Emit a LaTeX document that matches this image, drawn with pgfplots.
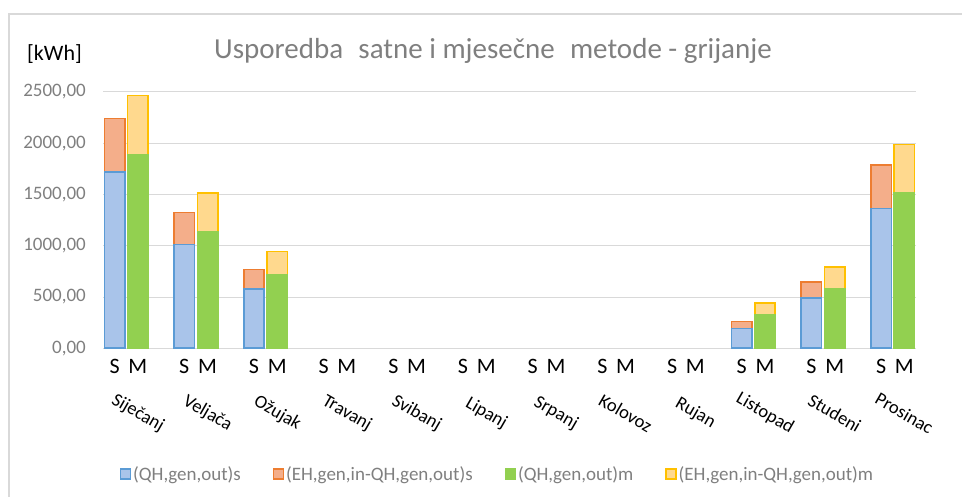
\documentclass[border=0pt]{standalone}
\usepackage{fontspec}
\setmainfont{Carlito}
\usepackage{pgfplots}
\usepackage{pgfplotstable}
\pgfplotsset{compat=1.18}
\definecolor{bfill}{HTML}{A9C4EA}
\definecolor{bdraw}{HTML}{5B9BD5}
\definecolor{ofill}{HTML}{F4AE8A}
\definecolor{odraw}{HTML}{ED7D31}
\definecolor{gfill}{HTML}{92D050}
\definecolor{yfill}{HTML}{FFD98E}
\definecolor{ydraw}{HTML}{FFC000}
\definecolor{gridc}{HTML}{D9D9D9}
\definecolor{txtg}{HTML}{7F7F7F}
\definecolor{frame}{HTML}{D9D9D9}

% x = slot of S bar; M bar is x+1
\pgfplotstableread{
x  qs    es   qm    em
0  1719  524  1888  576
3  1014  312  1137  375
6  578   192  715   231
27 195   68   322   117
30 488   156  585   208
33 1365  423  1512  474
}\data

\begin{document}
\begin{tikzpicture}
\useasboundingbox (0pt,0pt) rectangle (963pt,497pt);
\draw[color=frame, line width=1.2pt] (9pt,0pt) -- (9pt,483pt) -- (962pt,483pt);
\node[anchor=base, text=txtg, font=\fontsize{29}{32}\selectfont] at (493pt,438pt)
  {Usporedba\hspace{0.3em} satne i mjesečne\hspace{0.3em} metode - grijanje};
\node[anchor=base west, text=black, font=\fontsize{22}{24}\selectfont, inner sep=0pt] at (27pt,436pt) {[kWh]};
\begin{axis}[
  at={(103pt,148.7pt)}, anchor=south west,
  scale only axis, width=813pt, height=256.3pt,
  xmin=-0.5, xmax=34.5, ymin=0, ymax=2500,
  clip=false,
  axis line style={draw=none},
  major tick length=0pt,
  ymajorgrids, grid style={color=gridc, line width=1pt},
  ytick={0,500,1000,1500,2000,2500},
  yticklabel style={font=\fontsize{19}{21}\selectfont, text=txtg, anchor=east, inner sep=0pt, xshift=-17pt,
    /pgf/number format/fixed, /pgf/number format/fixed zerofill, /pgf/number format/precision=2,
    /pgf/number format/use comma, /pgf/number format/1000 sep={}, /pgf/number format/assume math mode=true},
  xtick={0,1,3,4,6,7,9,10,12,13,15,16,18,19,21,22,24,25,27,28,30,31,33,34},
  xticklabels={S,M,S,M,S,M,S,M,S,M,S,M,S,M,S,M,S,M,S,M,S,M,S,M},
  xticklabel style={font=\fontsize{22}{24}\selectfont, text=black, anchor=north, inner sep=0pt, yshift=-11pt},
  extra x ticks={1,4,7,10,13,16,19,22,25,28,31,34},
  extra x tick labels={Siječanj,Veljača,Ožujak,Travanj,Svibanj,Lipanj,Srpanj,Kolovoz,Rujan,Listopad,Studeni,Prosinac},
  extra x tick style={xticklabel style={font=\fontsize{18.5}{20}\selectfont, yshift=-54pt, rotate=-30, anchor=center}},
  legend columns=4,
  legend image code/.code={\draw[#1, line width=1.3pt] (0pt,-5pt) rectangle (10pt,5pt);},
  legend style={at={(0.4852,-0.4904)}, anchor=center, draw=none, fill=none,
    font=\fontsize{19}{22}\selectfont, text=txtg,
    /tikz/every even column/.append style={column sep=30pt},
    nodes={inner sep=2pt}},
]
\addlegendimage{fill=bfill, draw=bdraw}
\addlegendentry{(QH,gen,out)s}
\addlegendimage{fill=ofill, draw=odraw}
\addlegendentry{(EH,gen,in-QH,gen,out)s}
\addlegendimage{fill=gfill, draw=gfill}
\addlegendentry{(QH,gen,out)m}
\addlegendimage{fill=yfill, draw=ydraw}
\addlegendentry{(EH,gen,in-QH,gen,out)m}

\addplot[ybar, bar width=0.88, bar shift=0pt, fill=ofill, draw=odraw, line width=1.6pt, forget plot]
  table[x=x, y expr=\thisrow{qs}+\thisrow{es}] {\data};
\addplot[ybar, bar width=0.88, bar shift=0pt, fill=bfill, draw=bdraw, line width=1.6pt, forget plot]
  table[x=x, y=qs] {\data};
\addplot[ybar, bar width=0.88, bar shift=0pt, fill=yfill, draw=ydraw, line width=1.6pt, forget plot]
  table[x expr=\thisrow{x}+1, y expr=\thisrow{qm}+\thisrow{em}] {\data};
\addplot[ybar, bar width=0.88, bar shift=0pt, fill=gfill, draw=gfill, line width=1.6pt, forget plot]
  table[x expr=\thisrow{x}+1, y=qm] {\data};
\end{axis}
\end{tikzpicture}
\end{document}
